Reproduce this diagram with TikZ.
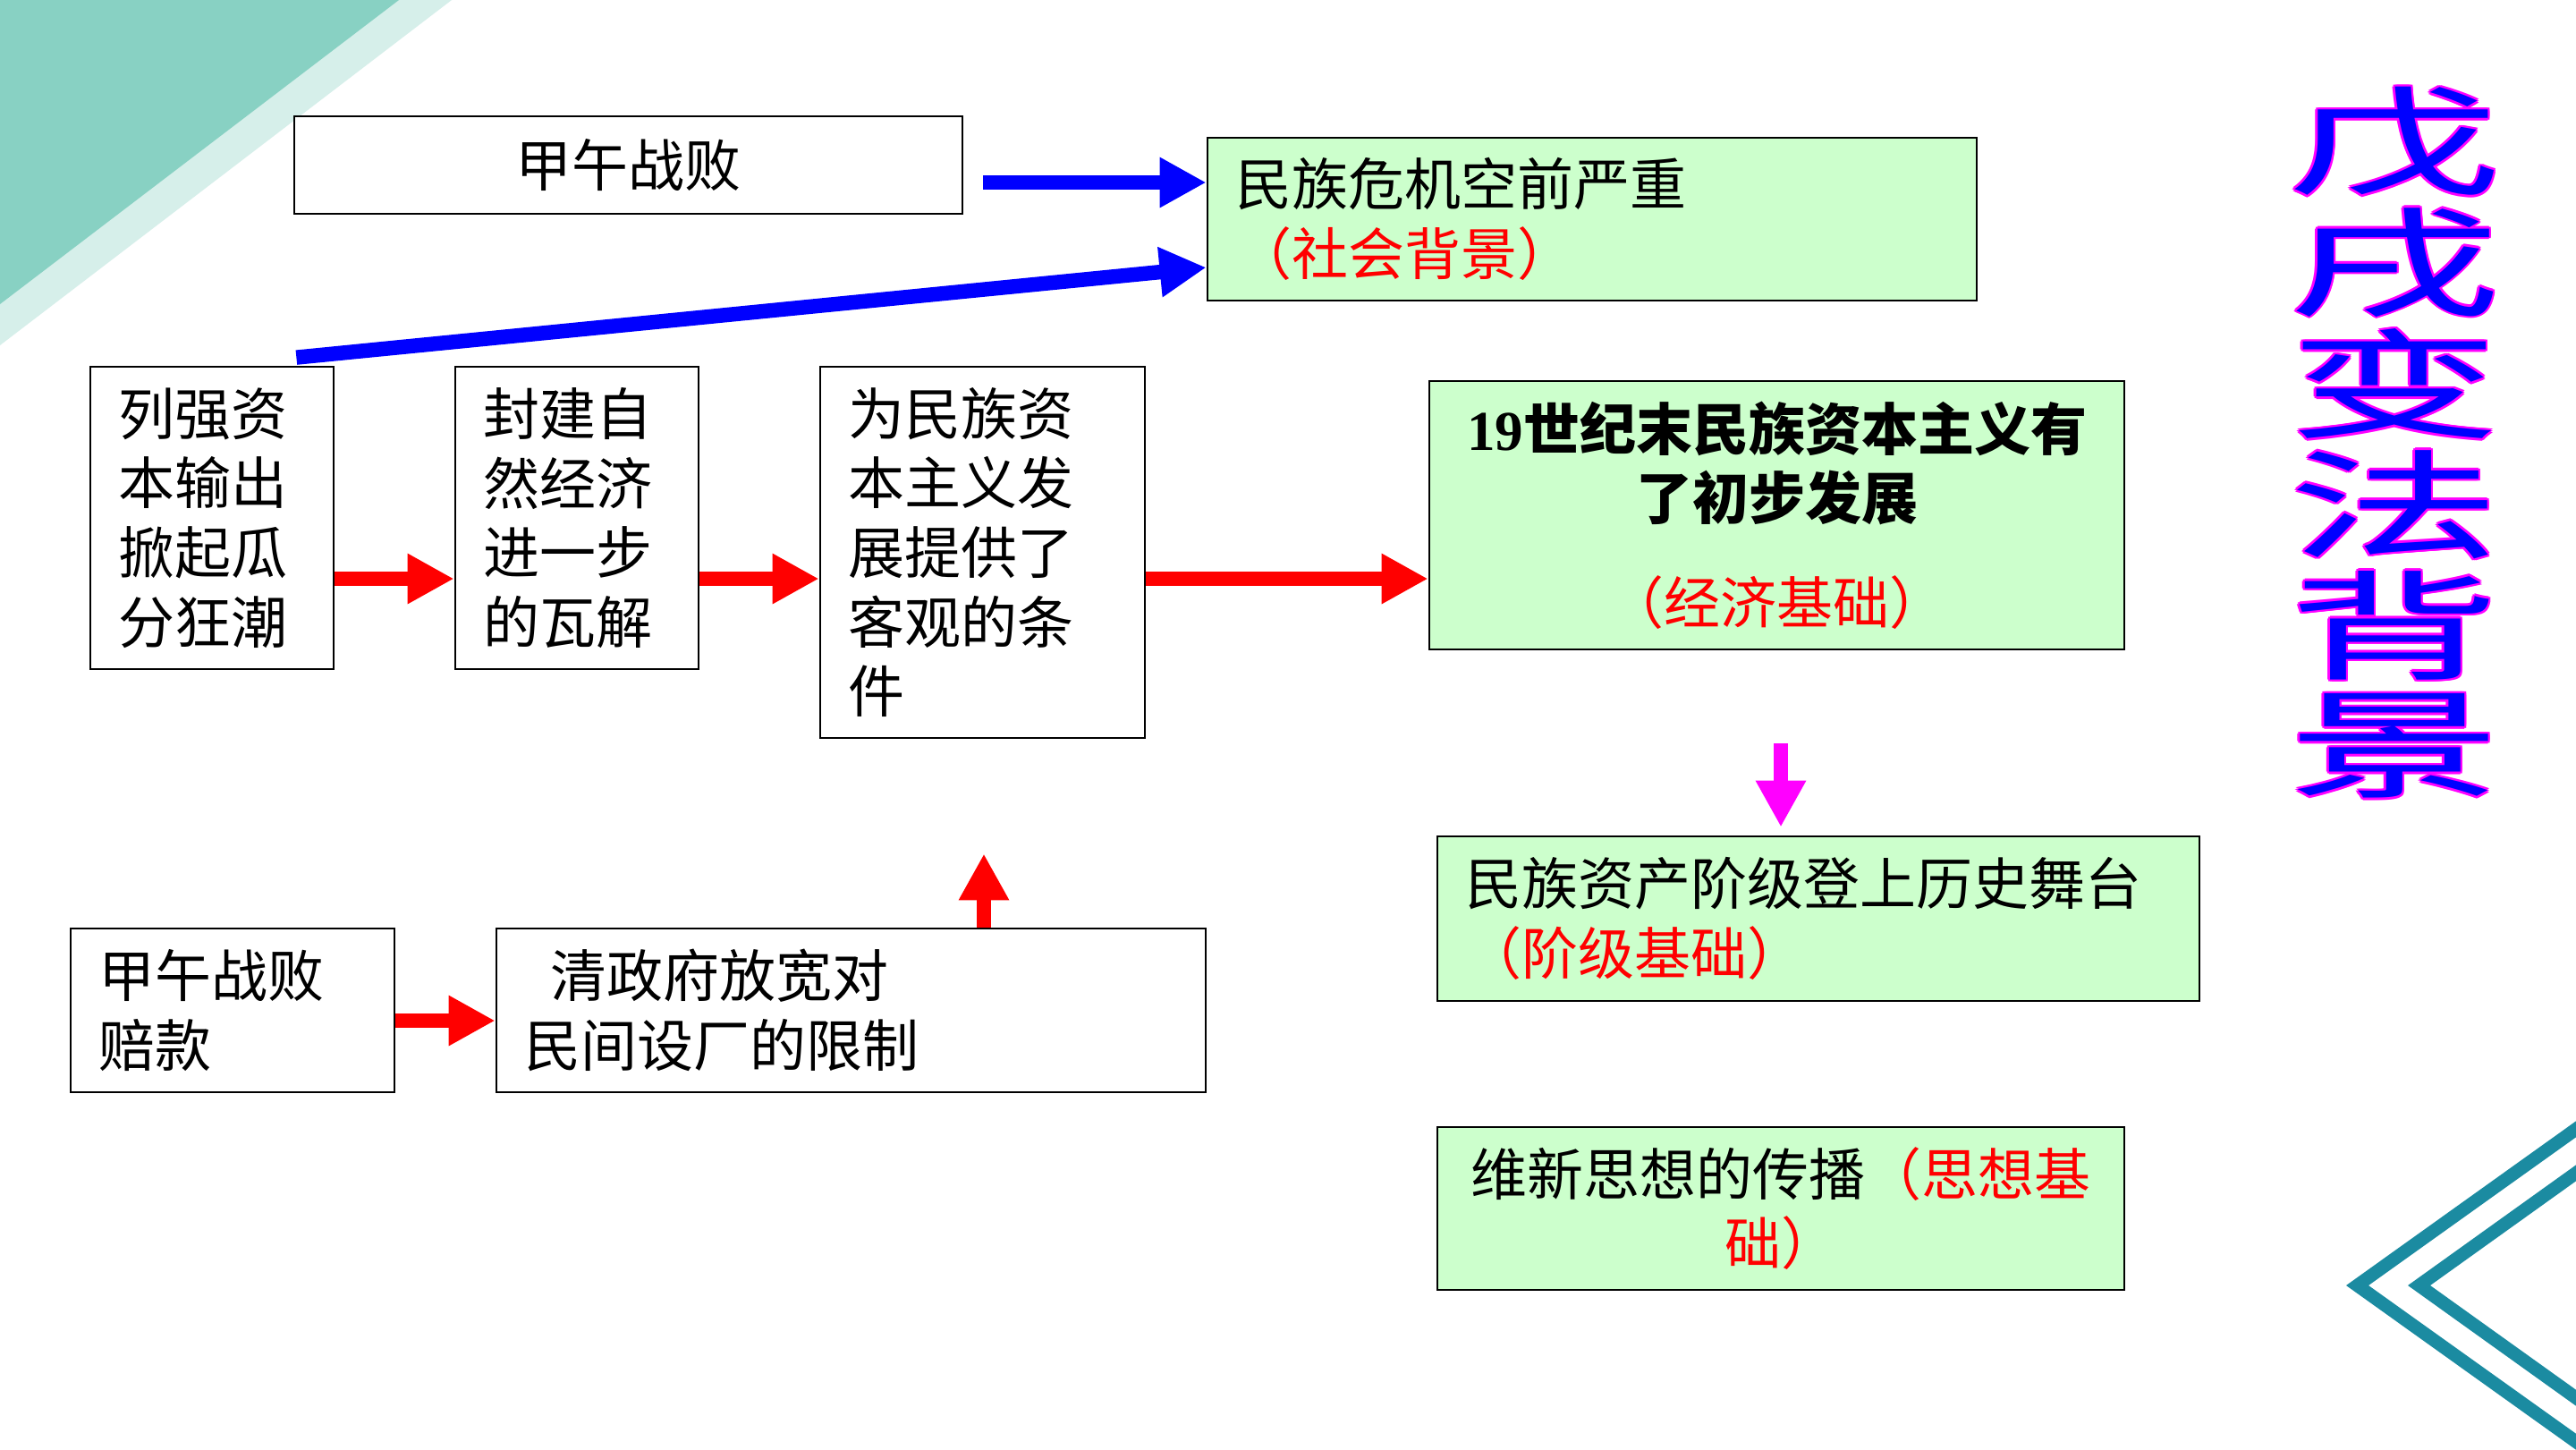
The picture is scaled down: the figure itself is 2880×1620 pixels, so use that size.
\documentclass[tikz,border=0pt]{standalone}
\usepackage{fontspec}
\setmainfont{Noto Sans CJK SC}
\newfontfamily\serifnum{Liberation Serif}
\usetikzlibrary{arrows.meta,calc}
\definecolor{boxgreen}{HTML}{CCFFCC}
\definecolor{tealdark}{HTML}{88D1C3}
\definecolor{teallight}{HTML}{D6EFEA}
\definecolor{chev}{HTML}{1B8BA1}
\definecolor{magpink}{HTML}{FF00FF}
\definecolor{pureblue}{HTML}{0000FF}
\definecolor{purered}{HTML}{FF0000}
\tikzset{
  box/.style={draw=black, line width=0.7pt, rectangle, inner xsep=7.75pt, inner ysep=0pt,
    font=\fontsize{15.75pt}{19.4pt}\selectfont, align=left},
  gbox/.style={box, fill=boxgreen},
  wbox/.style={box, fill=white},
  blk/.style={line width=4.1pt, -{Triangle[width=13.2pt,length=13pt]}},
  redarr/.style={blk, draw=purered},
  bluearr/.style={blk, draw=pureblue},
  magarr/.style={blk, draw=magpink},
  titlech/.style={inner sep=0pt, font=\fontsize{33pt}{33pt}\selectfont},
}
\newcommand{\tch}[1]{\scalebox{1.8}[1]{#1}}
\begin{document}
\begin{tikzpicture}[x=0.25pt, y=-0.25pt]
\useasboundingbox (0,0) rectangle (2880,1620);
\clip (0,0) rectangle (2880,1620);
\fill[white] (0,0) rectangle (2880,1620);
% decorations
\fill[teallight] (0,0) -- (505,0) -- (0,386) -- cycle;
\fill[tealdark] (0,0) -- (446,0) -- (0,340) -- cycle;
\fill[chev] (2900,1239) -- (2623,1437) -- (2900,1635) -- (2900,1617) -- (2648,1437) -- (2900,1257) -- cycle;
\fill[chev] (2900,1288) -- (2692,1437) -- (2900,1586) -- (2900,1568) -- (2717,1437) -- (2900,1306) -- cycle;

% boxes
\node[wbox, align=center, minimum width=186.75pt, minimum height=27.25pt, text width=171.25pt] (jw1) at (702.5,184.5) {甲午战败};
\node[gbox, minimum width=215pt, minimum height=45.5pt, text width=199.5pt] (crisis) at (1780,245) {民族危机空前严重\\{\color{purered}（社会背景）}};
\node[wbox, minimum width=68pt, minimum height=84.5pt, text width=52.5pt] (lq) at (237,579) {列强资\\本输出\\掀起瓜\\分狂潮};
\node[wbox, minimum width=68pt, minimum height=84.5pt, text width=52.5pt] (fj) at (645,579) {封建自\\然经济\\进一步\\的瓦解};
\node[wbox, minimum width=90.75pt, minimum height=103.75pt, text width=75.25pt] (wm) at (1098.5,617.5) {为民族资\\本主义发\\展提供了\\客观的条\\件};
\node[gbox, align=center, minimum width=194.25pt, minimum height=75pt, text width=180pt, inner xsep=7.125pt] (econ) at (1986.5,576) {\textbf{{\serifnum 19}世纪末民族资本主义有}\\\textbf{了初步发展}\\[9.75pt]{\color{purered}（经济基础）}};
\node[gbox, minimum width=213pt, minimum height=46pt, text width=197.5pt] (cls) at (2033,1027) {民族资产阶级登上历史舞台\\{\color{purered}（阶级基础）}};
\node[gbox, align=center, minimum width=192pt, minimum height=45.5pt, text width=176.5pt] (idea) at (1991,1351) {维新思想的传播{\color{purered}（思想基}\\{\color{purered}础）}};
\node[wbox, minimum width=90.5pt, minimum height=45.75pt, text width=75pt] (pk) at (260,1129.5) {甲午战败\\赔款};
\node[wbox, minimum width=198.25pt, minimum height=45.75pt, text width=182.75pt] (qz) at (951.5,1129.5) {\hspace*{7.3pt}清政府放宽对\\民间设厂的限制};

% arrows
\draw[bluearr] ($(jw1.east)+(22,19.5)$) -- ($(crisis.west)+(0,-41)$);
\draw[bluearr] ($(lq.north east)+(-43,-9)$) -- ($(crisis.west)+(0,54)$);
\draw[redarr] ($(lq.east)+(0,68)$) -- ($(fj.west)+(0,68)$);
\draw[redarr] ($(fj.east)+(0,68)$) -- ($(wm.west)+(0,29.5)$);
\draw[redarr] ($(wm.east)+(0,29.5)$) -- ($(econ.west)+(0,71)$);
\draw[redarr] ($(pk.east)+(0,11.5)$) -- ($(qz.west)+(0,11.5)$);
\coordinate (uptip) at ($(wm.south)+(1.5,128)$);
\draw[redarr] ($(qz.north)+(148.5,0)$) -- (uptip);
\coordinate (magtop) at ($(econ.south)+(4.5,104)$);
\draw[magarr] (magtop) -- ($(cls.north)+(-42,-9)$);

% vertical title
\foreach \ch [count=\i from 0] in {戊,戌,变,法,背,景} {
  \coordinate (tc\i) at (2677,{159+135*\i});
  \foreach \a in {0,45,...,315} {
    \node[titlech, text=magpink] (to\i-\a) at ($(tc\i)+(\a:2.6)$) {\tch{\ch}};
  }
  \node[titlech, text=pureblue] (t\i) at (tc\i) {\tch{\ch}};
}
\end{tikzpicture}
\end{document}
